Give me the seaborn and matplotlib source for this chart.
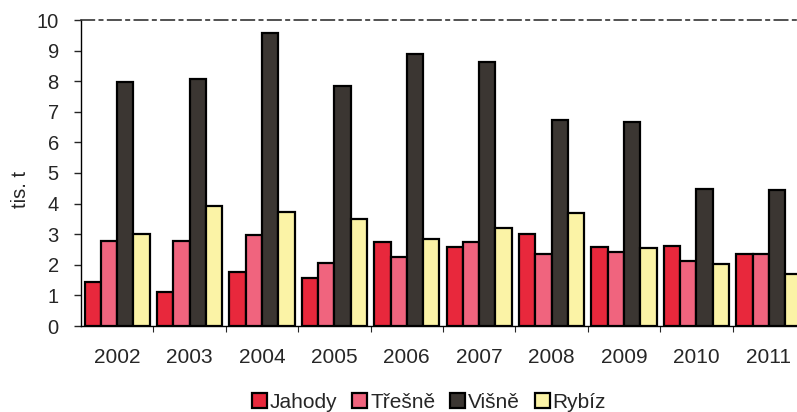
import matplotlib
matplotlib.use("Agg")
import matplotlib.pyplot as plt
import seaborn as sns
import pandas as pd

years = ["2002", "2003", "2004", "2005", "2006", "2007", "2008", "2009", "2010", "2011"]
series = ["Jahody", "Třešně", "Višně", "Rybíz"]
jahody = [1.45, 1.11, 1.77, 1.58, 2.75, 2.57, 3.01, 2.57, 2.62, 2.35]
tresne = [2.79, 2.79, 2.97, 2.07, 2.24, 2.73, 2.34, 2.41, 2.12, 2.35]
visne = [7.96, 8.07, 9.56, 7.85, 8.88, 8.64, 6.73, 6.66, 4.48, 4.43]
rybiz = [3.00, 3.92, 3.71, 3.49, 2.85, 3.19, 3.70, 2.54, 2.04, 1.70]
colors = ["#e8283c", "#f0647e", "#3b3632", "#fbf3a6"]
yticks = list(range(0, 11))

rows = []
for s, vals in zip(series, [jahody, tresne, visne, rybiz]):
    for y, v in zip(years, vals):
        rows.append({"rok": y, "druh": s, "hodnota": v})
df = pd.DataFrame(rows)

sns.set_style("white")
plt.rcParams["font.family"] = ["Liberation Sans", "DejaVu Sans"]

fig = plt.figure(figsize=(7.97, 4.12), dpi=100)
W, H = 797, 412
ax = fig.add_axes([81 / W, 86 / H, 724 / W, 306 / H])

sns.barplot(data=df, x="rok", y="hodnota", hue="druh", hue_order=series,
            order=years, palette=colors, width=0.9, gap=0,
            edgecolor="black", linewidth=1.6, saturation=1, ax=ax, legend=True)

ax.set_xlim(-0.5, 9.5)
ax.set_ylim(0, 10)
ax.set_yticks(yticks)
ax.set_yticklabels([str(t) for t in yticks], fontsize=14.5)
ax.tick_params(axis="x", labelsize=15, length=0, pad=16)
ax.tick_params(axis="y", length=5, left=True, width=1, pad=11)
ax.set_xlabel("")
ax.set_ylabel("")
fig.text(20 / W, 1 - 189 / H, "tis. t", rotation=90, ha="center", va="center",
         fontsize=14.5)

for side in ["left", "bottom"]:
    ax.spines[side].set_visible(True)
    ax.spines[side].set_color("black")
    ax.spines[side].set_linewidth(1)
ax.spines["right"].set_visible(False)
ax.spines["top"].set_visible(True)
ax.spines["top"].set_linestyle((0, (8, 3, 2, 3)))
ax.spines["top"].set_color("#333333")
ax.spines["top"].set_linewidth(1.2)

# minor ticks at category boundaries
ax.set_xticks([i + 0.5 for i in range(len(years) - 1)], minor=True)
ax.tick_params(axis="x", which="minor", length=4, bottom=True, width=0.8)

handles, labels = ax.get_legend_handles_labels()
ax.get_legend().remove()
fig.legend(handles, labels, loc="center", bbox_to_anchor=(429 / W, 1 - 402 / H),
           ncol=4, frameon=False, fontsize=15, handlelength=0.72, handleheight=0.72,
           handletextpad=0.15, columnspacing=0.7, borderpad=0)

fig.savefig("out.png", dpi=100)
